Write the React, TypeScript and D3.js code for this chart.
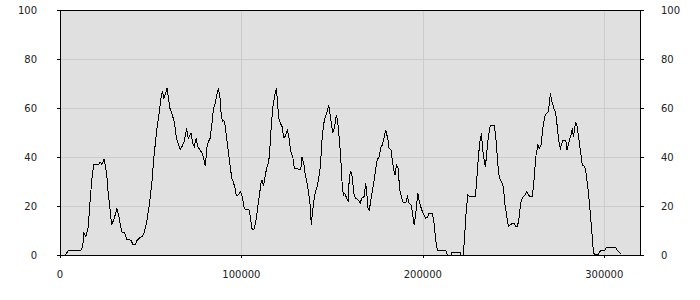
import React from "react";
import * as d3 from "d3";

const xValues: number[] = [
  2900, 4700, 11600, 12500, 13200, 14200, 15600, 16500, 17500, 18600, 21500, 22100, 23000, 24300, 24800, 25700, 26600, 27600, 28500, 29900,
  31400, 32500, 34000, 35700, 36800, 39100, 40400, 41300, 42600, 44100, 45600, 46500, 47800, 49100, 50600, 51800, 53300, 54600, 55700, 56400,
  57300, 59000, 59700, 60600, 61900, 63000, 64300, 66300, 67400, 68500, 69800, 70700, 72200, 73200, 74000, 75000, 75900, 77200, 78300, 79200,
  80100, 80900, 81800, 82700, 83600, 84500, 85500, 86600, 87300, 88200, 88800, 89500, 90300, 91000, 91900, 92800, 93700, 94700, 95500, 96500,
  97200, 98300, 99400, 100500, 101300, 102400, 104200, 104900, 105700, 106800, 108100, 109000, 109900, 110800, 111400, 112100, 112900, 113700, 114700, 115400,
  116300, 117300, 118000, 118700, 119300, 120000, 120600, 121500, 122400, 123300, 124200, 125300, 126300, 127200, 128300, 129200, 130700, 132700, 133400, 134400,
  135200, 136200, 137100, 138000, 138500, 139300, 140400, 141700, 142600, 143500, 144400, 145400, 146300, 147200, 148100, 149600, 150300, 151400, 152300, 153100,
  154000, 154700, 155500, 156200, 157000, 157700, 158800, 159500, 160300, 161100, 161900, 163000, 164500, 165400, 166300, 167600, 168500, 169100, 169800, 170500,
  171500, 172600, 173700, 174800, 175900, 177000, 177700, 178500, 179600, 180800, 181400, 182500, 183200, 184000, 184700, 185400, 186300, 187300, 188200, 189100,
  190600, 191500, 192400, 193500, 194200, 195200, 196100, 197200, 198300, 199400, 200700, 201600, 202700, 203400, 205300, 206200, 207100, 208000, 212600, 213500,
  215600, 215900, 220500, 221100, 222300, 222900, 223800, 224800, 225700, 229000, 229700, 230600, 231500, 232300, 233000, 233800, 234500, 235200, 236000, 237100,
  237600, 239400, 240400, 241300, 242200, 243300, 244400, 245300, 246300, 247200, 248100, 249200, 250500, 251000, 252100, 252900, 253600, 254300, 255400, 256400,
  257300, 258200, 259100, 260200, 260900, 261700, 262400, 263400, 264200, 265200, 266100, 267200, 268100, 269000, 269600, 270300, 271200, 272200, 273100, 274000,
  274900, 275800, 277300, 278800, 279500, 280600, 281900, 282400, 283000, 283800, 284300, 285000, 286000, 286800, 287900, 289300, 290100, 291100, 292000, 292900,
  293800, 294400, 296600, 297500, 298600, 300300, 301200, 306400, 307100, 308600, 309300,
];

const yValues: number[] = [
  0, 2, 2, 3.4, 9, 7.5, 11.6, 21, 30.6, 37.1, 37.1, 38, 37, 39, 37, 33.4, 25, 18.4, 12.2, 15,
  19, 15.6, 9.5, 9, 6.4, 6, 4.1, 4.1, 6.1, 7.2, 7.7, 9.5, 13.6, 19.7, 29.3, 40.1, 51, 57.8, 64, 66.7,
  64, 68, 64.6, 59.9, 57.1, 54.4, 47.2, 43.1, 44.5, 46.3, 51.7, 47.6, 49.7, 45.6, 44.2, 47.6, 44.2, 42.9, 41.5, 39.5,
  36.3, 43.5, 46.3, 47.6, 52.4, 59.2, 61.9, 66, 68, 64, 57.8, 54.4, 55.1, 53, 47.6, 42.2, 36.7, 31.3, 29.9, 27.2,
  24.1, 24.5, 25.9, 23.8, 19.7, 18.4, 18.4, 15.6, 10.9, 10.2, 14.3, 19.7, 24.5, 29.3, 30.6, 28.2, 31.3, 34.7, 37.4, 40.1,
  51, 60.5, 63.3, 66.7, 68, 61.2, 55.8, 53.7, 52.4, 48, 48.3, 51, 47.6, 42.2, 40.1, 35.4, 35.2, 34.7, 39.9, 37.4,
  32.7, 29.3, 25.2, 19.7, 12.2, 18.4, 24.5, 27.9, 31.3, 36, 46.9, 53.7, 56.5, 58.5, 61.2, 53.7, 49.7, 52.4, 57.1, 54.4,
  46.9, 40.1, 29.3, 24.5, 25.2, 23.8, 21.8, 32, 34, 32, 25.2, 23.1, 22.4, 21.1, 23.1, 23.8, 29.3, 25.2, 19, 18.4,
  23.1, 27.9, 33.3, 38.8, 40.1, 44.2, 44.9, 47.6, 51, 46.9, 43.5, 42.9, 38.1, 34.7, 32.7, 36.7, 35.4, 26.5, 23.8, 21.4,
  21.4, 23.8, 21.1, 20.4, 17.7, 12.2, 17, 25.2, 21.1, 18.4, 16.3, 15, 15.6, 17, 17, 12.9, 6.1, 2, 2, 0,
  0, 1, 1, 0, 0, 6.1, 17, 24.5, 23.8, 23.8, 30.6, 40.1, 46.3, 49.7, 42.9, 38.8, 36, 41.5, 47.6, 52.4,
  53, 53, 46.3, 37.4, 31.3, 29.9, 27.9, 20.4, 15.6, 11.6, 12.2, 12.9, 12.9, 11.6, 11.6, 14.3, 19, 22.4, 23.8, 24.5,
  25.9, 24.5, 23.8, 23.8, 27.2, 34.7, 40.8, 44.9, 43.5, 44.9, 51.7, 56.5, 57.8, 58.2, 61.2, 66, 62.6, 59.9, 58.5, 53,
  46.9, 43.5, 46.9, 46.9, 42.9, 46.3, 49.7, 51.7, 48.3, 52.4, 54.4, 52.4, 47.6, 42.9, 36.7, 36, 32.7, 26.5, 19.7, 11.6,
  3.4, 0.4, 0, 1.4, 2, 2, 3.1, 3.1, 2, 1, 0.3,
];

const xTicks: number[] = [0, 100000, 200000, 300000];
const yTicks: number[] = [0, 20, 40, 60, 80, 100];
const xDomain: number[] = [0, 319700];
const yDomain: number[] = [0, 100];

export default function App() {
  const W = 700, H = 300;
  const left = 60, right = 640, top = 10, bottom = 255;
  const x = d3.scaleLinear().domain(xDomain).range([left, right]);
  const y = d3.scaleLinear().domain(yDomain).range([bottom, top]);
  const pts: [number, number][] = xValues.map((v, i) => [v, yValues[i]]);
  const line = d3.line<[number, number]>().x(d => x(d[0])).y(d => y(d[1]));
  const font = "'DejaVu Sans', Verdana, sans-serif";
  const px = (v: number) => Math.round(v) + 0.5;
  return (
    <svg width={W} height={H} style={{ position: "absolute", left: 0, top: 0, background: "#fff" }}>
      <rect x={left} y={top} width={right - left} height={bottom - top} fill="#e0e0e0" />
      {yTicks.filter(t => t > 0 && t < 100).map(t => (
        <line key={"gy" + t} x1={left} x2={right} y1={px(y(t))} y2={px(y(t))} stroke="#cccccc" shapeRendering="crispEdges" />
      ))}
      {xTicks.filter(t => t > 0).map(t => (
        <line key={"gx" + t} x1={px(x(t))} x2={px(x(t))} y1={top} y2={bottom} stroke="#cccccc" shapeRendering="crispEdges" />
      ))}
      <path d={line(pts) || ""} fill="none" stroke="#000" strokeWidth={1} shapeRendering="crispEdges" />
      <rect x={left + 0.5} y={top + 0.5} width={right - left} height={bottom - top} fill="none" stroke="#000" shapeRendering="crispEdges" />
      {yTicks.map(t => (
        <g key={"yl" + t}>
          <line x1={left - 3} x2={left} y1={px(y(t))} y2={px(y(t))} stroke="#000" shapeRendering="crispEdges" />
          <line x1={right} x2={right + 4} y1={px(y(t))} y2={px(y(t))} stroke="#000" shapeRendering="crispEdges" />
          <text x={37} y={y(t)} dy="0.35em" textAnchor="end" fontFamily={font} fontSize={10} fill="#222">{t}</text>
          <text x={661} y={y(t)} dy="0.35em" textAnchor="start" fontFamily={font} fontSize={10} fill="#222">{t}</text>
        </g>
      ))}
      {xTicks.map(t => (
        <g key={"xl" + t}>
          <line x1={px(x(t))} x2={px(x(t))} y1={bottom} y2={bottom + 3} stroke="#000" shapeRendering="crispEdges" />
          <text x={x(t)} y={274} dy="0.35em" textAnchor="middle" fontFamily={font} fontSize={10} fill="#222">{t}</text>
        </g>
      ))}
    </svg>
  );
}
